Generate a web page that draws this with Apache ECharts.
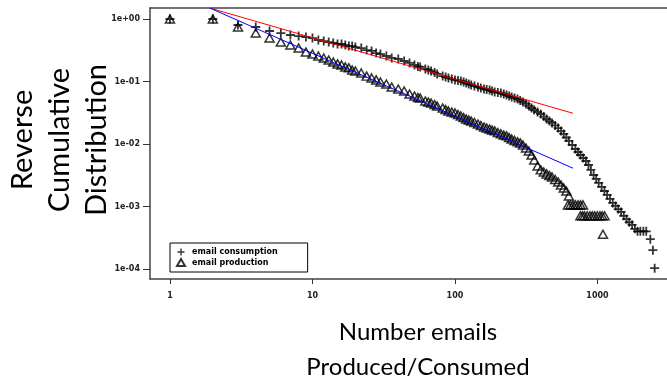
<!DOCTYPE html>
<html>
<head>
<meta charset="utf-8">
<script src="https://cdn.jsdelivr.net/npm/echarts@6/dist/echarts.min.js"></script>
<style>html,body{margin:0;padding:0;background:#fff}#chart{width:667px;height:385px}</style>
</head>
<body>
<div id="chart"></div>
<script>
// ---- data ----
const xTickValues = [1, 10, 100, 1000];
const yTickValues = [1, 0.1, 0.01, 0.001, 0.0001];
const yTickLabels = ['1e+00', '1e-01', '1e-02', '1e-03', '1e-04'];
const seriesNames = ['email consumption', 'email production'];

const consumptionCounts = [1,2,3,4,5,6,7,8,9,10,
  11,12,13,14,15,16,17,18,19,20,
  22,24,26,28,30,33,36,40,44,48,
  52,55,57,62,65,68,72,75,82,86,
  90,95,100,105,110,115,120,125,130,137,
  145,152,160,167,175,182,190,200,210,220,
  230,240,250,262,275,287,300,315,330,345,
  360,380,400,420,440,460,480,505,530,555,
  580,605,630,665,700,730,760,795,830,865,
  900,940,980,1020,1070,1120,1170,1225,1280,1340,
  1400,1465,1530,1600,1670,1750,1830,1910,2000,2100,
  2200,2350,2450,2520];
const consumptionShare = [1,1,0.801,0.745,0.643,0.596,0.555,0.534,0.515,0.496,
  0.461,0.444,0.428,0.413,0.398,0.398,0.383,0.369,0.369,0.356,
  0.343,0.318,0.308,0.285,0.275,0.256,0.238,0.229,0.213,0.198,
  0.184,0.174,0.171,0.159,0.153,0.147,0.139,0.132,0.122,0.118,
  0.114,0.110,0.106,0.104,0.102,0.098,0.0946,0.0912,0.0880,0.0847,
  0.0817,0.0787,0.0759,0.0745,0.0731,0.0705,0.0679,0.0667,0.0655,0.0631,
  0.0608,0.0586,0.0565,0.0544,0.0525,0.0497,0.0470,0.0437,0.0406,0.0377,
  0.0350,0.0325,0.0302,0.0275,0.0251,0.0233,0.0217,0.0198,0.0180,0.0161,
  0.0145,0.0127,0.0112,0.00964,0.00832,0.00745,0.00667,0.00597,0.00535,0.00461,
  0.00385,0.00319,0.00277,0.00238,0.00206,0.00177,0.00153,0.00132,0.00114,0.00102,
  0.00091,0.00082,0.00071,0.00063,0.00056,0.00051,0.00044,0.00040,0.00040,0.00040,
  0.00040,0.00030,0.00020,0.000103];

const productionCounts = [1,2,3,4,5,6,7,8,9,10,
  11,12,13,14,15,16,17,18,19,20,
  22,24,26,28,30,33,36,40,44,48,
  52,55,57,62,65,68,72,75,82,86,
  90,95,100,105,110,115,120,125,130,137,
  145,152,160,167,175,182,190,200,210,220,
  230,240,250,262,275,287,300,315,330,345,
  360,380,400,420,440,460,480,505,530,555,
  580,605,630,621,645,673,700,730,760,791,
  759,785,811,848,886,920,956,998,1041,1080,
  1122,1093];
const productionShare = [1,1,0.745,0.596,0.496,0.428,0.383,0.343,0.296,0.275,
  0.256,0.238,0.221,0.205,0.191,0.184,0.171,0.165,0.153,0.147,
  0.137,0.122,0.114,0.106,0.0981,0.0912,0.0817,0.0759,0.0705,0.0631,
  0.0586,0.0555,0.0544,0.0488,0.0470,0.0453,0.0429,0.0406,0.0377,0.0356,
  0.0338,0.0325,0.0314,0.0296,0.0281,0.0265,0.0251,0.0242,0.0233,0.0221,
  0.0209,0.0198,0.0187,0.0180,0.0174,0.0167,0.0162,0.0153,0.0145,0.0139,
  0.0135,0.0127,0.0120,0.0114,0.0108,0.0104,0.00964,0.00863,0.00772,0.00667,
  0.00555,0.00444,0.00385,0.00356,0.00332,0.00313,0.00297,0.00270,0.00247,0.00221,
  0.00198,0.00177,0.00147,0.00106,0.00106,0.00106,0.00106,0.00106,0.00106,0.00106,
  0.00071,0.00071,0.00071,0.00071,0.00071,0.00071,0.00071,0.00071,0.00071,0.00071,
  0.00071,0.00036];

const consumptionFit = [[1.9, 1.5], [673, 0.031]];
const productionFit = [[1.9, 1.5], [673, 0.0041]];

// ---- chart ----
const lg = v => Math.log10(v);
const toPts = (xs, ys) => xs.map((x, i) => [lg(x), lg(ys[i])]);
const fitPts = arr => arr.map(p => [lg(p[0]), lg(p[1])]);

const chart = echarts.init(document.getElementById('chart'), null, {renderer: 'canvas'});
const tickFont = {fontFamily: 'DejaVu Sans', fontSize: 8, fontWeight: 'bold', color: '#222'};
const plusPath = 'path://M3.2,0h1.6v3.2h3.2v1.6h-3.2v3.2h-1.6v-3.2h-3.2v-1.6h3.2z';
const triPath = 'path://M4,0L8,7L0,7Z';
const frameLine = {show: true, onZero: false, lineStyle: {color: '#444', width: 1.5}};

chart.setOption({
  animation: false,
  backgroundColor: '#fff',
  grid: {left: 150, top: 8, right: 0, height: 271},
  xAxis: [{
    type: 'value', min: -0.14, max: 3.488, position: 'bottom',
    axisLine: frameLine,
    splitLine: {show: false},
    axisTick: {show: true, length: 5, customValues: xTickValues.map(lg), lineStyle: {color: '#333', width: 1}},
    axisLabel: {customValues: xTickValues.map(lg), margin: 13, formatter: v => String(Math.round(Math.pow(10, v))), ...tickFont}
  }, {
    type: 'value', min: -0.14, max: 3.488, position: 'top',
    axisLine: frameLine, splitLine: {show: false}, axisTick: {show: false}, axisLabel: {show: false}
  }],
  yAxis: {
    type: 'value', min: -4.16, max: 0.176,
    axisLine: frameLine,
    splitLine: {show: false},
    axisTick: {show: true, length: 7, customValues: yTickValues.map(lg), lineStyle: {color: '#333', width: 1}},
    axisLabel: {customValues: yTickValues.map(lg), margin: 10,
      formatter: v => { const i = yTickValues.findIndex(t => Math.abs(lg(t) - v) < 1e-6); return i >= 0 ? yTickLabels[i] : ''; },
      ...tickFont}
  },
  legend: {
    data: [{name: seriesNames[0], icon: plusPath}, {name: seriesNames[1], icon: triPath}],
    orient: 'vertical', left: 170, top: 243,
    itemWidth: 12, itemHeight: 7, itemGap: 2,
    padding: [5, 30, 5, 6],
    borderColor: '#000', borderWidth: 1,
    textStyle: {fontFamily: 'DejaVu Sans', fontSize: 8, fontWeight: 'bold', color: '#000'}
  },
  series: [
    {name: seriesNames[0], type: 'scatter', data: toPts(consumptionCounts, consumptionShare),
      symbol: plusPath, symbolSize: 9, itemStyle: {color: '#000'}, z: 2},
    {name: seriesNames[1], type: 'scatter', data: toPts(productionCounts, productionShare),
      symbol: triPath, symbolSize: [9, 8], itemStyle: {color: 'rgba(0,0,0,0)', borderColor: '#000', borderWidth: 1.5}, z: 2},
    {name: 'consumption fit', type: 'line', data: fitPts(consumptionFit), showSymbol: false, symbol: 'none',
      lineStyle: {color: '#ff0000', width: 1}, z: 3},
    {name: 'production fit', type: 'line', data: fitPts(productionFit), showSymbol: false, symbol: 'none',
      lineStyle: {color: '#0000ff', width: 1}, z: 3}
  ],
  graphic: [
    {type: 'text', x: 60, y: 140, rotation: Math.PI / 2,
      style: {text: 'Reverse\nCumulative\nDistribution', font: '29px Lato', textAlign: 'center', textVerticalAlign: 'middle', lineHeight: 37, fill: '#000'}},
    {type: 'text', x: 418, y: 350,
      style: {text: 'Number emails\nProduced/Consumed', font: '24px Lato', textAlign: 'center', textVerticalAlign: 'middle', lineHeight: 35, fill: '#000'}}
  ]
});
</script>
</body>
</html>
